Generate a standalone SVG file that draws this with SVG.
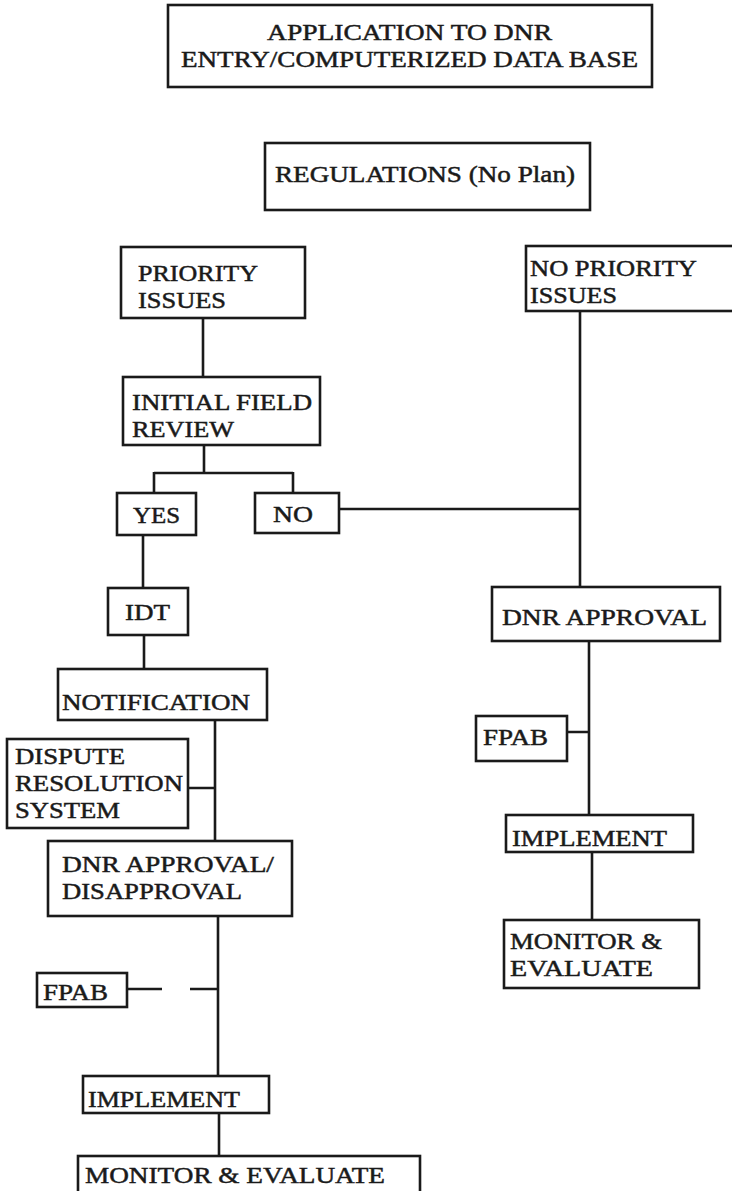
<svg xmlns="http://www.w3.org/2000/svg" width="732" height="1191" viewBox="0 0 732 1191">
<style>
.box{fill:#fff;stroke:#1a1a1a;stroke-width:2.6}
.t{font-family:"Liberation Serif","Times New Roman",serif;font-size:24px;fill:#1a1a1a;stroke:#1a1a1a;stroke-width:0.5}
.c{text-anchor:middle}
.ln{stroke:#1a1a1a;stroke-width:2.6;fill:none}
</style>
<rect width="732" height="1191" fill="#fff"/>
<g id="connectors">
<path class="ln" d="M203 318V377"/>
<path class="ln" d="M204 445V473M154 473H293M154 472V493M293 472V493"/>
<path class="ln" d="M143 535V588"/>
<path class="ln" d="M144 635V669"/>
<path class="ln" d="M339 509H580"/>
<path class="ln" d="M580 311V587"/>
<path class="ln" d="M215 720V841M188 788H215"/>
<path class="ln" d="M218 916V1076M127 989H162M190 989H218"/>
<path class="ln" d="M219 1113V1156"/>
<path class="ln" d="M589 641V815M567 732H589"/>
<path class="ln" d="M592 852V920"/>
</g>
<g id="n-application"><rect class="box" x="168" y="5" width="484" height="82"/><text class="t" x="267" y="40" textLength="285" lengthAdjust="spacingAndGlyphs">APPLICATION TO DNR</text><text class="t" x="181" y="67" textLength="457" lengthAdjust="spacingAndGlyphs">ENTRY/COMPUTERIZED DATA BASE</text></g>
<g id="n-regulations"><rect class="box" x="265" y="143" width="325" height="67"/><text class="t" x="275" y="182" textLength="300" lengthAdjust="spacingAndGlyphs">REGULATIONS (No Plan)</text></g>
<g id="n-priority"><rect class="box" x="121" y="247" width="184" height="71"/><text class="t" x="138" y="281" textLength="120" lengthAdjust="spacingAndGlyphs">PRIORITY</text><text class="t" x="138" y="308" textLength="88" lengthAdjust="spacingAndGlyphs">ISSUES</text></g>
<g id="n-nopriority"><rect class="box" x="526" y="246" width="210" height="65"/><text class="t" x="530" y="276" textLength="167" lengthAdjust="spacingAndGlyphs">NO PRIORITY</text><text class="t" x="530" y="303" textLength="87" lengthAdjust="spacingAndGlyphs">ISSUES</text></g>
<g id="n-initial"><rect class="box" x="123" y="377" width="197" height="68"/><text class="t" x="132" y="410" textLength="180" lengthAdjust="spacingAndGlyphs">INITIAL FIELD</text><text class="t" x="132" y="437" textLength="102" lengthAdjust="spacingAndGlyphs">REVIEW</text></g>
<g id="n-yes"><rect class="box" x="117" y="493" width="79" height="42"/><text class="t" x="133" y="523" textLength="47" lengthAdjust="spacingAndGlyphs">YES</text></g>
<g id="n-no"><rect class="box" x="255" y="493" width="84" height="40"/><text class="t" x="273" y="522" textLength="40" lengthAdjust="spacingAndGlyphs">NO</text></g>
<g id="n-idt"><rect class="box" x="108" y="588" width="80" height="47"/><text class="t" x="125" y="620" textLength="45" lengthAdjust="spacingAndGlyphs">IDT</text></g>
<g id="n-dnr-approval"><rect class="box" x="492" y="587" width="228" height="54"/><text class="t" x="502" y="625" textLength="205" lengthAdjust="spacingAndGlyphs">DNR APPROVAL</text></g>
<g id="n-notification"><rect class="box" x="58" y="669" width="209" height="51"/><text class="t" x="62" y="710" textLength="188" lengthAdjust="spacingAndGlyphs">NOTIFICATION</text></g>
<g id="n-fpab-right"><rect class="box" x="476" y="716" width="91" height="45"/><text class="t" x="483" y="745" textLength="65" lengthAdjust="spacingAndGlyphs">FPAB</text></g>
<g id="n-dispute"><rect class="box" x="7" y="739" width="181" height="89"/><text class="t" x="15" y="764" textLength="110" lengthAdjust="spacingAndGlyphs">DISPUTE</text><text class="t" x="15" y="791" textLength="168" lengthAdjust="spacingAndGlyphs">RESOLUTION</text><text class="t" x="15" y="818" textLength="105" lengthAdjust="spacingAndGlyphs">SYSTEM</text></g>
<g id="n-implement-right"><rect class="box" x="506" y="815" width="187" height="37"/><text class="t" x="512" y="846" textLength="155" lengthAdjust="spacingAndGlyphs">IMPLEMENT</text></g>
<g id="n-dnr-approval-disapproval"><rect class="box" x="48" y="841" width="244" height="75"/><text class="t" x="62" y="872" textLength="212" lengthAdjust="spacingAndGlyphs">DNR APPROVAL/</text><text class="t" x="62" y="899" textLength="180" lengthAdjust="spacingAndGlyphs">DISAPPROVAL</text></g>
<g id="n-monitor-right"><rect class="box" x="504" y="920" width="195" height="68"/><text class="t" x="510" y="949" textLength="152" lengthAdjust="spacingAndGlyphs">MONITOR &amp;</text><text class="t" x="510" y="976" textLength="143" lengthAdjust="spacingAndGlyphs">EVALUATE</text></g>
<g id="n-fpab-left"><rect class="box" x="37" y="973" width="90" height="34"/><text class="t" x="43" y="1000" textLength="65" lengthAdjust="spacingAndGlyphs">FPAB</text></g>
<g id="n-implement-left"><rect class="box" x="83" y="1076" width="186" height="37"/><text class="t" x="88" y="1107" textLength="152" lengthAdjust="spacingAndGlyphs">IMPLEMENT</text></g>
<g id="n-monitor-left"><rect class="box" x="78" y="1156" width="342" height="40"/><text class="t" x="85" y="1183" textLength="300" lengthAdjust="spacingAndGlyphs">MONITOR &amp; EVALUATE</text></g>
</svg>
